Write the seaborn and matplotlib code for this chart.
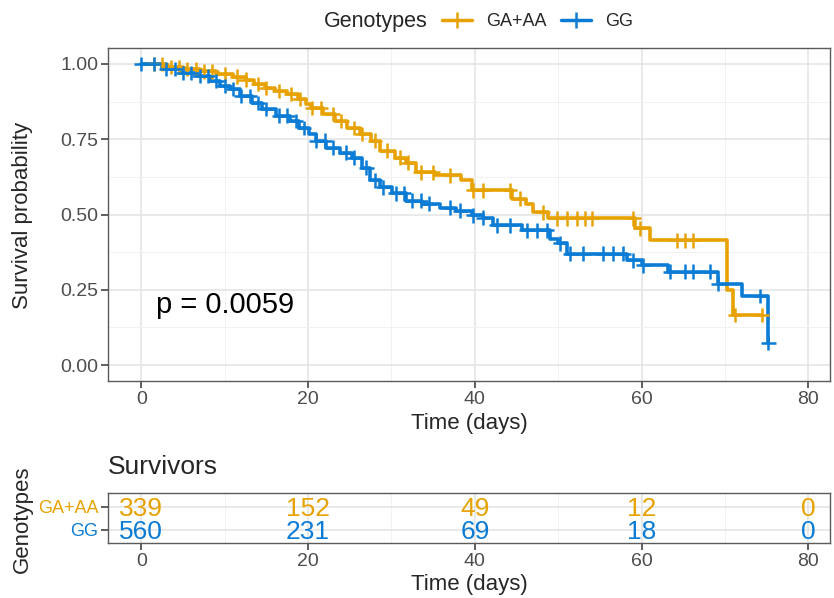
import numpy as np
import pandas as pd
import seaborn as sns
import matplotlib.pyplot as plt
from matplotlib.lines import Line2D
from matplotlib.ticker import MultipleLocator

# groups and colours
groups = ['GA+AA', 'GG']
colors = ['#E7A202', '#0B7CD5']

# Kaplan-Meier steps (time where the drop happens, survival after it)
ga_time = [0, 3, 5, 7, 9, 11, 12.5, 13.5, 14.8, 16, 17.5, 18.8, 19.8, 20.3, 21.8, 23.2,
           24.7, 26.2, 27.6, 28.6, 30.4, 31.8, 32.9, 35.2, 38.4, 39.6, 44.4, 46.1, 47.0,
           48.8, 59.2, 61.0, 70.2, 71.0, 74.5]
ga_surv = [1.0, 0.99, 0.983, 0.975, 0.967, 0.958, 0.948, 0.934, 0.92, 0.91, 0.90, 0.884,
           0.868, 0.854, 0.834, 0.81, 0.788, 0.768, 0.745, 0.712, 0.689, 0.672, 0.64, 0.63,
           0.613, 0.58, 0.553, 0.536, 0.507, 0.487, 0.454, 0.414, 0.25, 0.166, 0.166]
ga_censor = [1.5, 2.5, 3.5, 4.5, 5.5, 6.5, 7.5, 8.5, 10, 11.5, 12.5, 14, 15, 16.5, 18, 19,
             20.5, 21.5, 23, 24, 25.5, 26.5, 28, 29.5, 31, 32, 33.5, 35, 37.0, 39.8, 41.0,
             44.2, 45.4, 48.2, 49.8, 51.0, 52.2, 53.2, 54.0, 59.0, 59.8, 64.2, 65.2, 66.2,
             71.2, 74.4]

gg_time = [0, 2.5, 4.6, 6.5, 8.2, 9.4, 10.6, 11.8, 13.3, 14.5, 16.1, 17.8, 18.9, 20.1,
           21.0, 22.2, 23.8, 25.3, 26.5, 27.4, 28.6, 30.1, 31.8, 33.7, 35.8, 37.8, 39.7,
           41.0, 42.2, 45.6, 49.0, 50.0, 51.0, 58.3, 60.0, 63.2, 69.2, 72.0, 75.2]
gg_surv = [1.0, 0.983, 0.97, 0.96, 0.944, 0.927, 0.917, 0.894, 0.871, 0.851, 0.828, 0.81,
           0.788, 0.768, 0.745, 0.722, 0.705, 0.689, 0.656, 0.613, 0.59, 0.57, 0.546,
           0.536, 0.523, 0.513, 0.497, 0.49, 0.464, 0.447, 0.42, 0.404, 0.37, 0.348, 0.331,
           0.31, 0.27, 0.23, 0.073]
gg_censor = [0, 1.5, 3, 4, 5, 6, 7, 8, 9, 10, 11, 12, 13, 14, 15, 16.5, 17.5, 18.5, 19.5,
             21, 22, 23, 24.5, 25.5, 27, 28, 29, 30.5, 31.5, 32.5, 33.5, 34.5, 37.0, 38.2,
             39.8, 41.0, 42.6, 44.2, 46.2, 47.4, 48.6, 50.2, 51.4, 53.0, 55.4, 56.6, 57.8,
             59.0, 60.2, 63.4, 65.2, 66.2, 68.2, 69.2, 74.2, 75.2]

# numbers at risk
risk_times = [0, 20, 40, 60, 80]
ga_risk = [339, 152, 49, 12, 0]
gg_risk = [560, 231, 69, 18, 0]
p_label = 'p = 0.0059'


def censor_points(times, surv, cens):
    # survival value of the curve at each censoring time
    idx = np.searchsorted(times, cens, side='right') - 1
    return np.asarray(surv)[np.clip(idx, 0, None)]


curves = pd.concat([
    pd.DataFrame({'time': ga_time, 'surv': ga_surv, 'Genotypes': groups[0]}),
    pd.DataFrame({'time': gg_time, 'surv': gg_surv, 'Genotypes': groups[1]}),
])
cens = pd.concat([
    pd.DataFrame({'time': ga_censor, 'surv': censor_points(ga_time, ga_surv, ga_censor),
                  'Genotypes': groups[0]}),
    pd.DataFrame({'time': gg_censor, 'surv': censor_points(gg_time, gg_surv, gg_censor),
                  'Genotypes': groups[1]}),
])

sns.set_theme(style='whitegrid')
plt.rcParams['font.family'] = ['Liberation Sans', 'DejaVu Sans']

fig = plt.figure(figsize=(8.34, 5.98), dpi=100)
ax = fig.add_axes([108 / 834, 1 - 381 / 598, 722 / 834, 333 / 598])
tab = fig.add_axes([108 / 834, 1 - 543 / 598, 722 / 834, 50 / 598])

sns.lineplot(data=curves, x='time', y='surv', hue='Genotypes', palette=colors,
             estimator=None, sort=False, drawstyle='steps-post', linewidth=2.6,
             legend=False, ax=ax)
sns.scatterplot(data=cens, x='time', y='surv', hue='Genotypes', palette=colors,
                marker='+', s=110, linewidth=1.8, legend=False, ax=ax, zorder=3)


def style_axes(a):
    a.set_facecolor('white')
    a.grid(which='major', color='#E3E3E3', linewidth=1.1)
    a.grid(which='minor', color='#F1F1F1', linewidth=0.7)
    a.xaxis.set_major_locator(MultipleLocator(20))
    a.xaxis.set_minor_locator(MultipleLocator(10))
    for sp in a.spines.values():
        sp.set_visible(True)
        sp.set_color('#5A5A5A')
        sp.set_linewidth(1.0)
    a.tick_params(which='major', length=5, width=1.1, color='#333333', labelsize=14,
                  labelcolor='#4D4D4D', left=True, bottom=True, pad=2)
    a.tick_params(which='minor', length=0)
    a.set_axisbelow(True)


style_axes(ax)
ax.set_xlim(-4.0, 82.6)
ax.set_ylim(-0.053, 1.053)
ax.yaxis.set_major_locator(MultipleLocator(0.25))
ax.yaxis.set_minor_locator(MultipleLocator(0.125))
ax.yaxis.set_major_formatter(plt.FormatStrFormatter('%.2f'))
ax.set_xlabel('Time (days)', fontsize=16, labelpad=4)
ax.set_ylabel('')
fig.text(23 / 834, 1 - 215 / 598, 'Survival probability', rotation=90, fontsize=16,
         ha='center', va='center')
ax.text(1.7, 0.2, p_label, fontsize=21, ha='left', va='center', color='black')

# risk table
style_axes(tab)
tab.set_xlim(-4.0, 82.6)
tab.set_ylim(0.43, 2.61)
tab.set_yticks([2, 1])
tab.set_yticklabels(groups)
tab.tick_params(axis='y', labelsize=13)
for lab, c in zip(tab.get_yticklabels(), colors):
    lab.set_color(c)
tab.yaxis.grid(True, color='#E3E3E3', linewidth=1.1)
for t, n in zip(risk_times, ga_risk):
    tab.text(t, 2, str(n), color=colors[0], fontsize=19, ha='center',
             va='center_baseline')
for t, n in zip(risk_times, gg_risk):
    tab.text(t, 1, str(n), color=colors[1], fontsize=19, ha='center',
             va='center_baseline')
tab.set_xlabel('Time (days)', fontsize=16, labelpad=3)
tab.set_ylabel('')
tab.set_title('Survivors', loc='left', fontsize=19, pad=14)
fig.text(22 / 834, 1 - 519 / 598, 'Genotypes', rotation=90, fontsize=16,
         ha='center', va='center')

# legend on top
fig.text(428 / 834, 1 - 22 / 598, 'Genotypes', fontsize=15.5, ha='right', va='center')
handles = [Line2D([0], [0], color=c, lw=2.5, marker='+', markersize=11, mew=1.8)
           for c in colors]
fig.legend(handles, groups, loc='center left', bbox_to_anchor=(442 / 834, 1 - 22 / 598),
           ncol=2, frameon=False, fontsize=13, handlelength=1.65, handletextpad=0.8,
           columnspacing=0.8, borderaxespad=0, borderpad=0)

fig.savefig('out.png', dpi=100)
